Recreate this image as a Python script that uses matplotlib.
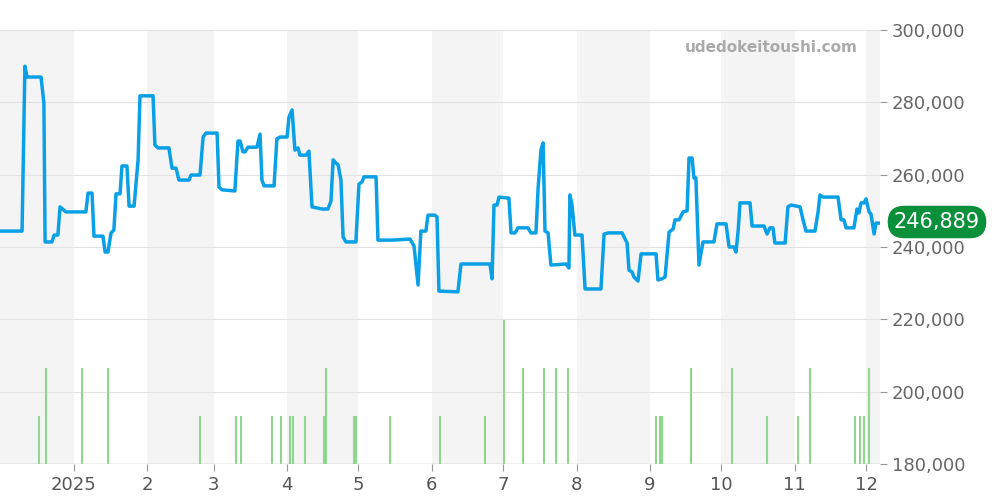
import matplotlib
matplotlib.use("Agg")
import matplotlib.pyplot as plt

PX_PER_DAY = 866/365.0
line_px = [(0,231),(22,231),(25,66),(27,77),(41,77),(44,103),(45,242),(52,242),(54,235),(58,235),(60,207),(66,212),(86,212),(88,193),(92,193),(94,236),(103,236),(105,252),(108,252),(111,233),(114,230),(116,194),(120,194),(122,166),(127,166),(129,206),(134,206),(138,160),(140,96),(153,96),(155,145),(158,148),(169,148),(172,168),(176,168),(179,180),(189,180),(191,175),(200,175),(203,137),(206,133),(217,133),(219,187),(222,190),(235,191),(238,141),(240,141),(243,152),(245,152),(248,147),(257,147),(260,134),(262,180),(264,186),(274,186),(277,139),(280,137),(287,137),(289,117),(292,110),(295,150),(298,148),(300,155),(306,155),(309,151),(312,207),(322,209),(328,209),(331,201),(333,160),(336,163),(338,165),(341,180),(343,237),(346,242),(356,242),(359,184),(362,182),(364,177),(376,177),(378,240),(392,240),(410,239),(414,246),(418,285),(421,231),(426,231),(428,215),(435,215),(437,217),(439,291),(458,292),(461,264),(490,264),(492,279),(494,205),(497,205),(499,197),(509,198),(511,233),(515,233),(518,228),(528,228),(531,233),(536,233),(538,188),(541,150),(543,143),(545,231),(548,233),(551,265),(566,264),(569,268),(570,195),(572,205),(575,235),(582,235),(585,289),(601,289),(604,234),(608,233),(622,233),(627,243),(629,270),(632,272),(634,277),(638,281),(641,254),(656,254),(658,280),(662,279),(665,277),(667,256),(669,232),(673,229),(675,220),(679,220),(683,212),(687,211),(689,158),(692,158),(694,178),(696,178),(699,265),(703,242),(714,242),(717,224),(726,224),(729,247),(734,247),(736,252),(738,231),(740,203),(750,203),(752,226),(764,226),(767,234),(770,228),(773,228),(775,243),(785,243),(788,207),(791,205),(800,207),(803,219),(806,231),(815,231),(818,212),(820,195),(823,197),(838,197),(841,220),(844,220),(846,228),(854,228),(857,209),(859,213),(861,203),(864,203),(866,199),(869,212),(871,214),(874,234),(876,223),(880,223)]
days = [round(x/PX_PER_DAY,1) for x,_ in line_px]
prices = [round(300000-(y-30)/434*120000,-2) for _,y in line_px]

vol_px = [(39,1),(46,2),(82,2),(108,2),(200,1),(236,1),(241,1),(272,1),(281,1),(290,1),(293,1),(305,1),(324,1),(326,2),(354,1),(356,1),(390,1),(440,1),(485,1),(504,3),(523,2),(544,2),(556,2),(568,2),(656,1),(660,1),(662,1),(691,2),(732,2),(767,1),(798,1),(810,2),(855,1),(860,1),(864,1),(869,2)]
vol_days = [round(x/PX_PER_DAY,1) for x,_ in vol_px]
vol = [v for _,v in vol_px]

month_starts = [0,31,62,90,121,151,182,212,243,274,304,335,365]
month_labels = ["2025","2","3","4","5","6","7","8","9","10","11","12"]
last_price = 246889
XMAX = 880/PX_PER_DAY

fig = plt.figure(figsize=(10,5), dpi=100)
ax = fig.add_axes([0,0.072,0.88,0.868])
for i in range(0,len(month_starts),2):
    a = month_starts[i]; b = month_starts[i+1] if i+1 < len(month_starts) else XMAX
    ax.axvspan(a, b, color="#f4f4f4", zorder=0, lw=0)
ax.set_xlim(0, XMAX); ax.set_ylim(180000,300000)
ax.grid(axis="y", color="#e2e2e2", lw=0.8)
ax.set_xticks(month_starts[1:]); ax.set_xticklabels(month_labels, fontsize=13, color="#555")
ax.tick_params(axis="x", length=5, color="#999")
for s in ax.spines.values(): s.set_visible(False)
ax.axhline(180000, color="#bbb", lw=1)

ax2 = ax.twinx()
ax2.vlines(vol_days, 0, vol, color="#8fd68f", lw=1.5)
ax2.set_ylim(0,434/48); ax2.axis("off"); ax2.set_xlim(0, XMAX)

ax3 = ax.twinx(); ax3.set_ylim(180000,300000); ax3.set_xlim(0,XMAX)
ax3.plot(days, prices, color="#0aa0e6", lw=2.5)
for s in ax3.spines.values(): s.set_visible(False)
ax3.set_yticks(range(180000,300001,20000))
ax3.set_yticklabels([f"{v:,}" for v in range(180000,300001,20000)], fontsize=13, color="#666")
ax3.tick_params(axis="y", length=5, color="#999")
ax.set_yticks(range(180000,300001,20000)); ax.tick_params(axis="y", left=False, labelleft=False)

fig.text(0.858, 0.895, "udedokeitoushi.com", ha="right", fontsize=11, color="#aaa", fontweight="bold")
fig.text(0.937, 0.556, f"{last_price:,}", ha="center", va="center", fontsize=15, color="white",
         bbox=dict(boxstyle="round,pad=0.3,rounding_size=0.8", fc="#0a8f3a", ec="none"))
fig.savefig("out.png")
